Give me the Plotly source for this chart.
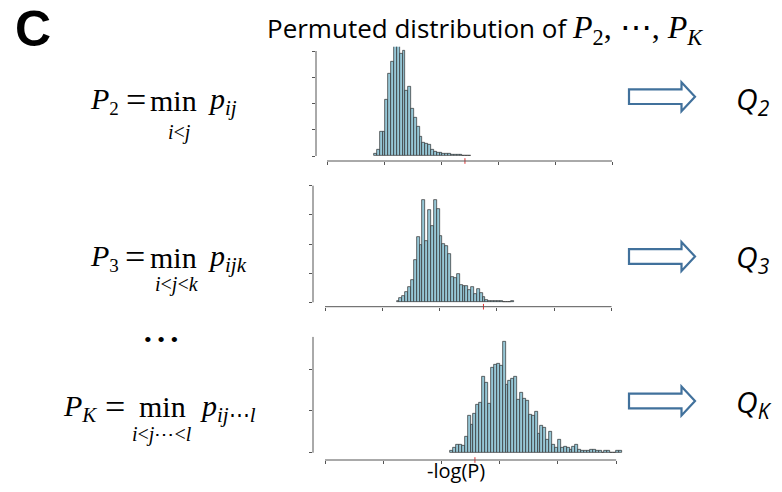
import plotly.graph_objects as go

# the page body has an 8px margin; the figure is sized so it fills the rest
PAGE_W, PAGE_H = 782, 492
OFF = 8
W, H = PAGE_W - OFF, PAGE_H - OFF

# ---------------- data ----------------
bin_width = 0.1
x_ticks = [0, 2, 4, 6, 8, 10]

p2_start = 1.65
p2_counts = [2, 4.6, 18.5, 18.5, 43, 62.5, 72, 90, 90, 78, 80, 50, 53, 36, 29, 22, 15,
             10, 9, 8.5, 4.5, 3.3, 2.8, 2.8, 2, 2, 1.5, 1.3, 1, 1, 0.8, 0.5, 0.5, 0.5]
p2_yticks = [0, 20, 40, 60, 80]
p2_obs = 4.84

p3_start = 2.5
p3_counts = [1.1, 2.7, 4.3, 7.3, 10.3, 15.3, 29.2, 44.5, 39.3, 70.3, 42.2, 63.2, 52.1,
             70.3, 63.9, 45.2, 40, 38.8, 33.1, 17.1, 16.4, 19.4, 11.9, 11.4, 11, 8.7,
             10.3, 5.7, 9.1, 6.4, 3.4, 1.8, 0.7, 0.7, 1.1, 1.1, 0.7, 0.5, 0.5, 0.5, 1.1]
p3_yticks = [0, 20, 40, 60, 80]
p3_obs = 5.53

pk_start = 4.3
pk_counts = [1.0, 2.5, 4.0, 4.0, 3.3, 7.5, 17.5, 13.5, 18.5, 23.0, 24.0, 36.5, 33.5,
             23.5, 40.5, 42.0, 42.5, 41.5, 53.0, 32.5, 34.5, 35.5, 36.5, 25.5, 28.5,
             26.0, 25.0, 18.0, 17.5, 19.5, 9.0, 13.0, 12.0, 6.0, 10.0, 4.0, 2.5, 6.0,
             2.5, 3.0, 2.5, 1.5, 3.0, 4.0, 1.5, 1.0, 1.0, 1.0, 1.5, 1.5, 1.0, 1.0, 0,
             1.0, 1.0, 0, 0, 1.0, 1.0]
pk_yticks = [0, 20, 40]
pk_obs = 5.15

x_label = "-log(P)"

# ---------------- helpers (page pixels -> paper) ----------------
def px(x):
    return (x - OFF) / W

def py(y):
    return 1 - (y - OFF) / H

BAR_FILL = "#96c7d6"
BAR_LINE = "#2e2e2e"
AX_COL = "#555555"

panels = [
    dict(start=p2_start, counts=p2_counts, yticks=p2_yticks, obs=p2_obs,
         dom_x=(316, 616), dom_y=(161, 46.7), xr=(-0.386, 10.14), yr=(-3.81, 83.28), ytop=80),
    dict(start=p3_start, counts=p3_counts, yticks=p3_yticks, obs=p3_obs,
         dom_x=(313, 616), dom_y=(306.7, 185), xr=(-0.419, 10.157), yr=(-3.02, 80.48), ytop=80),
    dict(start=pk_start, counts=pk_counts, yticks=pk_yticks, obs=pk_obs,
         dom_x=(313, 624), dom_y=(460, 336.7), xr=(-0.412, 10.27), yr=(-3.49, 55.5), ytop=55.5),
]

fig = go.Figure()
shapes = []
layout_axes = {}

for i, p in enumerate(panels):
    n = i + 1
    xa = "x" if n == 1 else f"x{n}"
    ya = "y" if n == 1 else f"y{n}"
    centers = [p["start"] + bin_width * (k + 0.5) for k in range(len(p["counts"]))]
    fig.add_trace(go.Bar(
        x=centers, y=p["counts"], width=bin_width,
        marker=dict(color=BAR_FILL, line=dict(color=BAR_LINE, width=0.7)),
        xaxis=xa, yaxis=ya, showlegend=False, hoverinfo="skip"))
    fig.add_trace(go.Scatter(
        x=[p["obs"]], y=[p["yr"][0]], mode="markers", cliponaxis=False,
        marker=dict(symbol="line-ns", size=4, line=dict(color="#e03030", width=1)),
        xaxis=xa, yaxis=ya, showlegend=False, hoverinfo="skip"))
    xkey = "xaxis" if n == 1 else f"xaxis{n}"
    ykey = "yaxis" if n == 1 else f"yaxis{n}"
    layout_axes[xkey] = dict(
        domain=[px(p["dom_x"][0]), px(p["dom_x"][1])], range=list(p["xr"]),
        anchor=ya, tickvals=x_ticks, ticks="outside", ticklen=3, tickwidth=1,
        tickcolor=AX_COL, showticklabels=False, showgrid=False, zeroline=False,
        showline=False, fixedrange=True)
    layout_axes[ykey] = dict(
        domain=[py(p["dom_y"][0]), py(p["dom_y"][1])], range=list(p["yr"]),
        anchor=xa, tickvals=p["yticks"], ticks="outside", ticklen=3, tickwidth=1,
        tickcolor=AX_COL, showticklabels=False, showgrid=False, zeroline=False,
        showline=False, fixedrange=True)
    shapes.append(dict(type="line", xref=f"{xa} domain", yref=ya, x0=0, x1=0,
                       y0=p["yticks"][0], y1=p["ytop"], line=dict(color=AX_COL, width=1)))
    shapes.append(dict(type="line", xref=xa, yref=f"{ya} domain", x0=x_ticks[0], x1=x_ticks[-1],
                       y0=0, y1=0, line=dict(color=AX_COL, width=1)))

def arrow_path(xl, xr, yc, sh, hh, hx):
    pts = [(xl, yc - sh), (hx, yc - sh), (hx, yc - hh), (xr, yc), (hx, yc + hh),
           (hx, yc + sh), (xl, yc + sh)]
    return "M " + " L ".join(f"{px(a):.5f},{py(b):.5f}" for a, b in pts) + " Z"

for yc in [96.7, 256.5, 401]:
    shapes.append(dict(type="path", xref="paper", yref="paper",
                       path=arrow_path(629, 695, yc, 7.3, 14.5, 681.5),
                       line=dict(color="#41719C", width=2.2), fillcolor="white"))

ann = []
SERIF = "Liberation Serif"
SANS = "Open Sans"

def A(text, x, y, size, family=SERIF, xanchor="center", yanchor="middle"):
    ann.append(dict(text=text, x=px(x), y=py(y), xref="paper", yref="paper",
                    xanchor=xanchor, yanchor=yanchor, showarrow=False, borderpad=0,
                    font=dict(size=size, family=family, color="black")))

def big_sub(t, size=21):
    return f"<sub><span style=\"font-size:{size}px\">{t}</span></sub>"

A("<b>C</b>", 33, 29, 50, family="Liberation Sans")

A("Permuted distribution of <span style=\"font-family:'Liberation Serif';font-size:32px\">"
  "<i>P</i><sub>2</sub>, ⋯, <i>P</i><sub><i>K</i></sub></span>",
  266, 30, 26, family=SANS, xanchor="left")

F = 30
SUB = 20
# P2
A("<i>P</i>" + big_sub("2", 19), 89, 101, F, xanchor="left")
A("=", 136, 100, 36)
A("min", 173, 118, F, yanchor="bottom")
A("<i>i</i>&lt;<i>j</i>", 179, 120, SUB, yanchor="top")
A("<i>p</i>" + big_sub("<i>ij</i>"), 207, 101, F, xanchor="left")
# P3
A("<i>P</i>" + big_sub("3", 19), 89, 258, F, xanchor="left")
A("=", 135, 257, 36)
A("min", 173, 274.5, F, yanchor="bottom")
A("<i>i</i>&lt;<i>j</i>&lt;<i>k</i>", 177, 271.5, SUB, yanchor="top")
A("<i>p</i>" + big_sub("<i>ijk</i>"), 207, 258, F, xanchor="left")
# dots
A("• • •", 161, 339, 22)
# PK
A("<i>P</i>" + big_sub("<i>K</i>"), 62, 408, F, xanchor="left")
A("=", 115, 407, 36)
A("min", 162, 424, F, yanchor="bottom")
A("<i>i</i>&lt;<i>j</i>⋯&lt;<i>l</i>", 161.5, 421.5, SUB, yanchor="top")
A("<i>p</i>" + big_sub("<i>ij</i>⋯<i>l</i>"), 199, 408, F, xanchor="left")

# Q labels
A("<i>Q<sub>2</sub></i>", 735, 100, 30, family=SANS, xanchor="left")
A("<i>Q<sub>3</sub></i>", 735, 258, 30, family=SANS, xanchor="left")
A("<i>Q<sub>K</sub></i>", 735, 403, 30, family=SANS, xanchor="left")

A(x_label, 456, 470, 20, family=SANS)

fig.update_layout(
    width=W, height=H, margin=dict(l=0, r=0, t=0, b=0),
    paper_bgcolor="white", plot_bgcolor="white",
    bargap=0, barmode="overlay", showlegend=False,
    shapes=shapes, annotations=ann, **layout_axes)

fig.write_html("out.html")
